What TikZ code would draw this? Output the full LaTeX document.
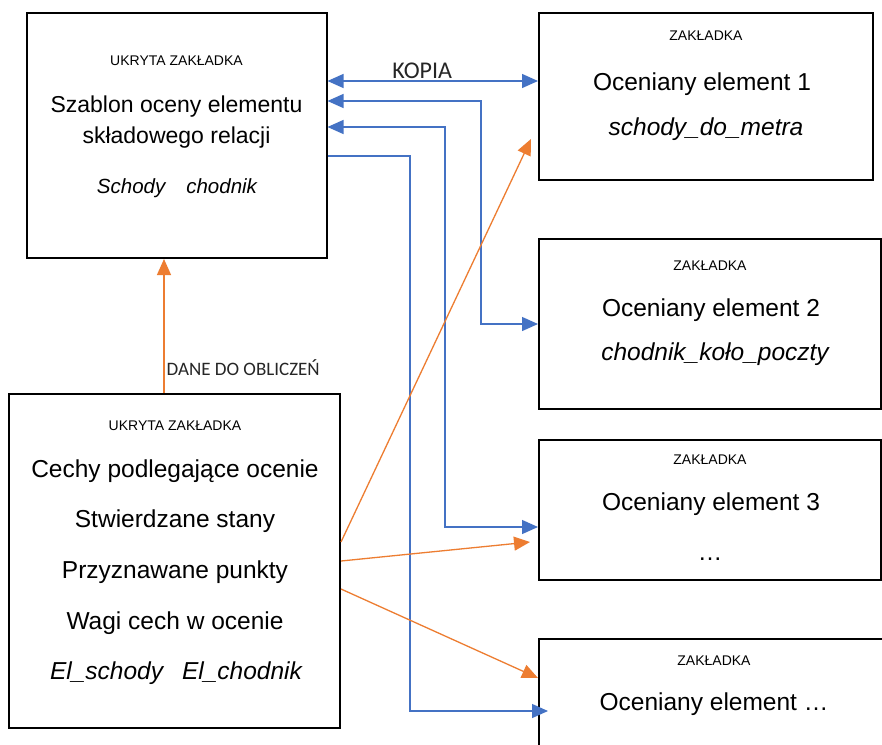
\documentclass[tikz,border=0pt]{standalone}
\usepackage{fontspec}
\setmainfont{Liberation Sans}
\newfontfamily\calibrifont{Carlito}
\usetikzlibrary{arrows.meta,calc}
\definecolor{WBlue}{HTML}{4472C4}
\definecolor{WOrange}{HTML}{ED7D31}
\definecolor{WText}{HTML}{262626}
\tikzset{
    tab/.style = {draw, rectangle, line width=2pt, inner sep=0pt},
    tabcap/.style = {anchor=base, inner sep=0pt, font=\fontsize{14}{16}\selectfont},
    txt/.style = {anchor=base, inner sep=0pt, font=\fontsize{24.5}{28}\selectfont},
    itxt/.style = {txt, font=\fontsize{24.5}{28}\selectfont\itshape},
    bline/.style = {draw, color=WBlue, line width=1.3pt},
    oline/.style = {draw, color=WOrange, line width=1.3pt},
    linelabel/.style = {text=WText, font=\calibrifont\fontsize{19}{21}\selectfont},
    onehead/.style = {arrows={-Triangle[length=16pt,width=14pt]}},
    twohead/.style = {arrows={Triangle[length=16pt,width=14pt]-Triangle[length=16pt,width=14pt]}}
}
\begin{document}
\begin{tikzpicture}[x=1pt,y=-1pt]
            \clip (0,0) rectangle (882,744);
            \fill[white] (0,0) rectangle (882,744);
            \node[tab, minimum width=300pt, minimum height=245pt] (szablon) at (176.5,135.5) {};
            \node[tab, minimum width=331pt, minimum height=334pt] (dane) at (174.5,561) {};
            \node[tab, minimum width=334pt, minimum height=167pt] (el1) at (706,96.5) {};
            \node[tab, minimum width=342pt, minimum height=170pt] (el2) at (710,324) {};
            \node[tab, minimum width=342pt, minimum height=140pt] (el3) at (710,510) {};
            \node[tab, minimum width=350pt, minimum height=150pt] (el4) at (714,714) {};
            \node[tabcap] (szcap) at (176.5,65) {UKRYTA ZAKŁADKA};
            \node[txt, font=\fontsize{23}{26}\selectfont] (sz1) at (176.5,112) {Szablon oceny elementu};
            \node[txt, font=\fontsize{23}{26}\selectfont] (sz2) at (176.5,143) {składowego relacji};
            \node[itxt, font=\fontsize{20.5}{23}\selectfont\itshape] (sz3) at (177,193) {Schody\hspace{21pt}chodnik};
            \node[tabcap] (dcap) at (175,430) {UKRYTA ZAKŁADKA};
            \node[txt] (d1) at (175,477) {Cechy podlegające ocenie};
            \node[txt] (d2) at (175,527) {Stwierdzane stany};
            \node[txt] (d3) at (175,578) {Przyznawane punkty};
            \node[txt] (d4) at (175,629) {Wagi cech w ocenie};
            \node[itxt] (d5) at (176,679) {El\_schody\hspace{19pt}El\_chodnik};
            \node[tabcap] (e1cap) at (706,40.5) {ZAKŁADKA};
            \node[txt] (e1a) at (702,90) {Oceniany element 1};
            \node[itxt] (e1b) at (706,135) {schody\_do\_metra};
            \node[tabcap] (e2cap) at (710,270.5) {ZAKŁADKA};
            \node[txt] (e2a) at (711,316) {Oceniany element 2};
            \node[itxt] (e2b) at (715,360) {chodnik\_koło\_poczty};
            \node[tabcap] (e3cap) at (710,464) {ZAKŁADKA};
            \node[txt] (e3a) at (711,510) {Oceniany element 3};
            \node[txt] (e3b) at (710,560) {…};
            \node[tabcap] (e4cap) at (714,665) {ZAKŁADKA};
            \node[txt] (e4a) at (714,710) {Oceniany element …};
            \draw[bline,twohead] ([yshift=-69pt]szablon.north east) -- node[pos=0.45,anchor=south,inner sep=2pt,linelabel,font=\calibrifont\fontsize{24}{26}\selectfont] {KOPIA} ([yshift=-69pt]el1.north west);
            \draw[bline,twohead] ([yshift=-89pt]szablon.north east) -| ([xshift=-57pt]el2.west) -- (el2.west);
            \draw[bline,twohead] ([yshift=-115pt]szablon.north east) -| ([xshift=-93pt,yshift=-17pt]el3.west) -- ([yshift=-17pt]el3.west);
            \draw[bline,onehead] ([yshift=-144pt]szablon.north east) -| ([xshift=-128pt,yshift=3pt]el4.west) -- ([xshift=10pt,yshift=3pt]el4.west);
            \draw[oline,onehead] ([xshift=-10.5pt]dane.north) -- node[pos=0.11,anchor=south west,inner sep=2pt,linelabel] {DANE DO OBLICZEŃ} ([xshift=-10.5pt]dane.north |- szablon.south);
            \draw[oline,onehead] ([yshift=19pt]dane.east) -- ([xshift=-7pt,yshift=-42.5pt]el1.west);
            \draw[oline,onehead] (dane.east) -- ([xshift=-8pt,yshift=-32pt]el3.west);
            \draw[oline,onehead] ([yshift=-28pt]dane.east) -- ([yshift=36pt]el4.west);
\end{tikzpicture}
\end{document}
